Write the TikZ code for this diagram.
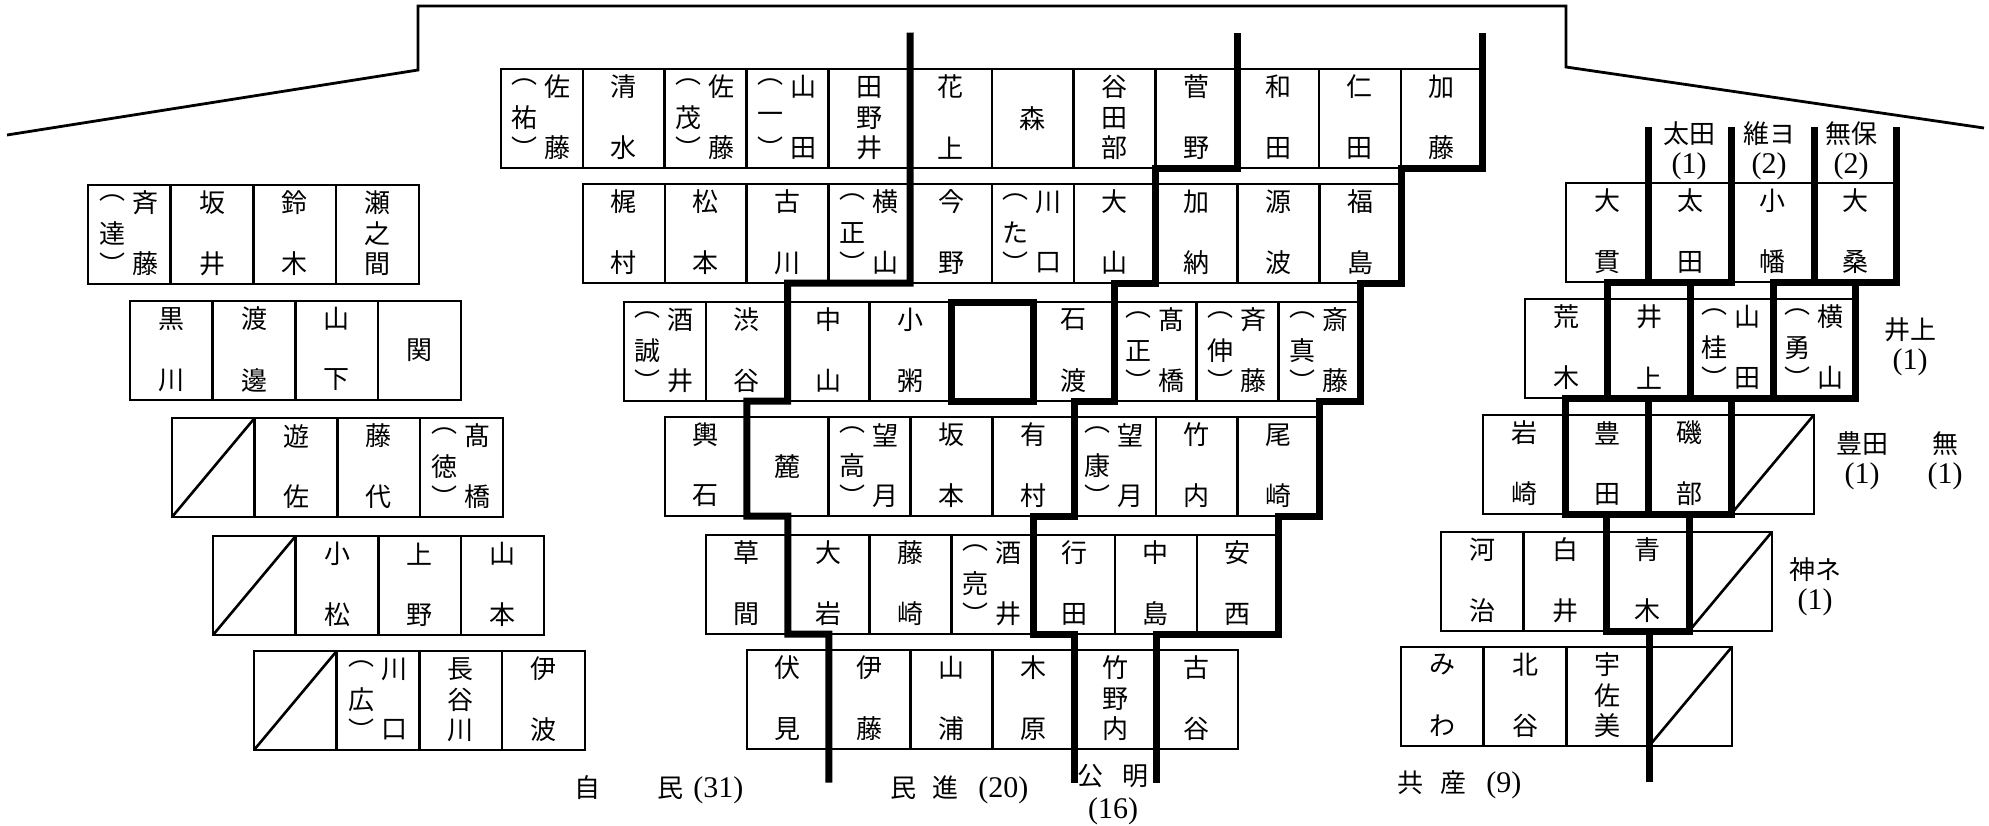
\documentclass[tikz,border=0pt]{standalone}
\usepackage{fontspec}
\setmainfont{Liberation Serif}
\newfontfamily\cjk{Noto Sans CJK JP}
\usetikzlibrary{calc}
\tikzset{
  seatbase/.style={draw, line width=1.3pt, inner sep=0pt, outer sep=0pt, minimum height=49.5pt, anchor=north west},
  midseat/.style={seatbase, minimum width=40.9pt},
  sideseat/.style={seatbase, minimum width=41.35pt},
  ch/.style={font=\cjk\fontsize{13}{15}\selectfont, inner sep=0pt},
  party/.style={line width=3.5pt, line cap=rect, line join=miter},
  diagline/.style={line width=1.3pt},
  stage/.style={line width=1.4pt, line join=miter},
  lbl/.style={font=\fontsize{15}{15}\selectfont, inner sep=0pt, align=center},
}
\newcommand\mkrow[5]{%
  \node[#2] (#1c1) at (#3,#4) {};
  \foreach \i [remember=\i as \p (initially 1)] in {2,...,#5} {\node[#2] (#1c\i) at (#1c\p.north east) {};}
}
\newcommand\nmTwo[3]{\node[ch] (#1a) at ([yshift=15.75pt]#1.center) {#2};\node[ch] (#1b) at ([yshift=-14.75pt]#1.center) {#3};}
\newcommand\nmThree[4]{\node[ch] (#1a) at ([yshift=15.75pt]#1.center) {#2};\node[ch] (#1m) at ([yshift=0.25pt]#1.center) {#3};\node[ch] (#1b) at ([yshift=-14.75pt]#1.center) {#4};}
\newcommand\nmOne[2]{\node[ch] (#1a) at (#1.center) {#2};}
\newcommand\nmPar[4]{\node[ch] (#1a) at ([xshift=8pt,yshift=15.75pt]#1.center) {#2};\node[ch] (#1m) at ([xshift=-8.5pt,yshift=0.25pt]#1.center) {#3};\node[ch] (#1b) at ([xshift=8pt,yshift=-14.75pt]#1.center) {#4};\node[ch] (#1o) at ([xshift=-8.5pt,yshift=18pt]#1.center) {︵};\node[ch] (#1c) at ([xshift=-8.5pt,yshift=-14.75pt]#1.center) {︶};}
\newcommand\nmDiag[1]{\draw[diagline] (#1.south west) -- (#1.north east);}
\begin{document}
\begin{tikzpicture}[x=0.5pt,y=-0.5pt]
\fill[white] (0,0) rectangle (1989,825);
\useasboundingbox (0,0) rectangle (1989,825);
% stage
\draw[stage] (7,135) -- (418,70) -- (418,6) -- (1566,6) -- (1566,67) -- (1984,128);
% center block
\mkrow{r1}{midseat}{501}{69}{12}
\mkrow{r2}{midseat}{583}{184}{10}
\mkrow{r3}{midseat}{624}{302}{9}
\mkrow{r4}{midseat}{665}{417}{8}
\mkrow{r5}{midseat}{706}{535}{7}
\mkrow{r6}{midseat}{747}{650}{6}
% left block
\mkrow{l1}{sideseat}{88}{185}{4}
\mkrow{l2}{sideseat}{130}{301}{4}
\mkrow{l3}{sideseat}{172}{418}{4}
\mkrow{l4}{sideseat}{213}{536}{4}
\mkrow{l5}{sideseat}{254}{651}{4}
% right block
\mkrow{q1}{sideseat}{1566}{183}{4}
\mkrow{q2}{sideseat}{1525}{299}{4}
\mkrow{q3}{sideseat}{1483}{415}{4}
\mkrow{q4}{sideseat}{1441}{532}{4}
\mkrow{q5}{sideseat}{1401}{647}{4}
% names row 1
\nmPar{r1c1}{佐}{祐}{藤}\nmTwo{r1c2}{清}{水}\nmPar{r1c3}{佐}{茂}{藤}\nmPar{r1c4}{山}{一}{田}
\nmThree{r1c5}{田}{野}{井}\nmTwo{r1c6}{花}{上}\nmOne{r1c7}{森}\nmThree{r1c8}{谷}{田}{部}
\nmTwo{r1c9}{菅}{野}\nmTwo{r1c10}{和}{田}\nmTwo{r1c11}{仁}{田}\nmTwo{r1c12}{加}{藤}
% row 2
\nmTwo{r2c1}{梶}{村}\nmTwo{r2c2}{松}{本}\nmTwo{r2c3}{古}{川}\nmPar{r2c4}{横}{正}{山}
\nmTwo{r2c5}{今}{野}\nmPar{r2c6}{川}{た}{口}\nmTwo{r2c7}{大}{山}\nmTwo{r2c8}{加}{納}
\nmTwo{r2c9}{源}{波}\nmTwo{r2c10}{福}{島}
% row 3
\nmPar{r3c1}{酒}{誠}{井}\nmTwo{r3c2}{渋}{谷}\nmTwo{r3c3}{中}{山}\nmTwo{r3c4}{小}{粥}
\nmTwo{r3c6}{石}{渡}\nmPar{r3c7}{髙}{正}{橋}\nmPar{r3c8}{斉}{伸}{藤}\nmPar{r3c9}{斎}{真}{藤}
% row 4
\nmTwo{r4c1}{輿}{石}\nmOne{r4c2}{麓}\nmPar{r4c3}{望}{高}{月}\nmTwo{r4c4}{坂}{本}
\nmTwo{r4c5}{有}{村}\nmPar{r4c6}{望}{康}{月}\nmTwo{r4c7}{竹}{内}\nmTwo{r4c8}{尾}{崎}
% row 5
\nmTwo{r5c1}{草}{間}\nmTwo{r5c2}{大}{岩}\nmTwo{r5c3}{藤}{崎}\nmPar{r5c4}{酒}{亮}{井}
\nmTwo{r5c5}{行}{田}\nmTwo{r5c6}{中}{島}\nmTwo{r5c7}{安}{西}
% row 6
\nmTwo{r6c1}{伏}{見}\nmTwo{r6c2}{伊}{藤}\nmTwo{r6c3}{山}{浦}\nmTwo{r6c4}{木}{原}
\nmThree{r6c5}{竹}{野}{内}\nmTwo{r6c6}{古}{谷}
% left block names
\nmPar{l1c1}{斉}{達}{藤}\nmTwo{l1c2}{坂}{井}\nmTwo{l1c3}{鈴}{木}\nmThree{l1c4}{瀬}{之}{間}
\nmTwo{l2c1}{黒}{川}\nmTwo{l2c2}{渡}{邊}\nmTwo{l2c3}{山}{下}\nmOne{l2c4}{関}
\nmDiag{l3c1}\nmTwo{l3c2}{遊}{佐}\nmTwo{l3c3}{藤}{代}\nmPar{l3c4}{髙}{徳}{橋}
\nmDiag{l4c1}\nmTwo{l4c2}{小}{松}\nmTwo{l4c3}{上}{野}\nmTwo{l4c4}{山}{本}
\nmDiag{l5c1}\nmPar{l5c2}{川}{広}{口}\nmThree{l5c3}{長}{谷}{川}\nmTwo{l5c4}{伊}{波}
% right block names
\nmTwo{q1c1}{大}{貫}\nmTwo{q1c2}{太}{田}\nmTwo{q1c3}{小}{幡}\nmTwo{q1c4}{大}{桑}
\nmTwo{q2c1}{荒}{木}\nmTwo{q2c2}{井}{上}\nmPar{q2c3}{山}{桂}{田}\nmPar{q2c4}{横}{勇}{山}
\nmTwo{q3c1}{岩}{崎}\nmTwo{q3c2}{豊}{田}\nmTwo{q3c3}{磯}{部}\nmDiag{q3c4}
\nmTwo{q4c1}{河}{治}\nmTwo{q4c2}{白}{井}\nmTwo{q4c3}{青}{木}\nmDiag{q4c4}
\nmTwo{q5c1}{み}{わ}\nmTwo{q5c2}{北}{谷}\nmThree{q5c3}{宇}{佐}{美}\nmDiag{q5c4}
% party lines, center
\draw[party] ($(r1c5.north east)+(0,-33)$) -- (r2c4.south east) -| (r3c2.south east) -| (r4c1.south east) -| (r5c1.south east) -| (r6c1.south east) -- ++(0,30);
\draw[party] ($(r1c9.north east)+(0,-33)$) -- (r1c9.south east) -| (r2c7.south east) -| (r3c6.south east) -| (r4c5.south east) -| (r5c4.south east) -| (r6c4.south east) -- ++(0,30);
\draw[party] ($(r1c12.north east)+(0,-33)$) -- (r1c12.south east) -| (r2c10.south east) -| (r3c9.south east) -| (r4c8.south east) -| (r5c7.south east) -| (r6c5.south east) -- ++(0,30);
\draw[party] (r3c5.north west) rectangle (r3c5.south east);
% party lines, right
\foreach \i in {1,...,4} {\draw[party] ($(q1c\i.north east)+(0,-53)$) -- (q1c\i.south east);}
\draw[party] (q2c1.east |- q1c1.south) -- (q1c2.south east);
\draw[party] (q2c3.east |- q1c1.south) -- (q1c4.south east);
\foreach \i in {1,...,4} {\draw[party] (q2c\i.east |- q1c1.south) -- (q2c\i.south east);}
\draw[party] (q3c1.east |- q2c1.south) -- (q2c4.south east);
\foreach \i in {1,...,3} {\draw[party] (q3c\i.east |- q2c1.south) -- (q3c\i.south east);}
\draw[party] (q3c1.south east) -- (q3c3.south east);
\draw[party] (q4c2.east |- q3c1.south) -- (q4c2.south east) -- (q4c3.south east) -- (q4c3.east |- q3c1.south);
\draw[party] (q5c3.east |- q4c1.south) -- ($(q5c3.south east)+(0,32)$);
% labels right
\node[lbl] (labota) at (1689,151) {{\cjk\fontsize{13}{15}\selectfont 太田}\\(1)};
\node[lbl] (labishin) at (1769,151) {{\cjk\fontsize{13}{15}\selectfont 維ヨ}\\(2)};
\node[lbl] (labmuho) at (1851,151) {{\cjk\fontsize{13}{15}\selectfont 無保}\\(2)};
\node[lbl] (labinoue) at (1910,347) {{\cjk\fontsize{13}{15}\selectfont 井上}\\(1)};
\node[lbl] (labtoyota) at (1862,461) {{\cjk\fontsize{13}{15}\selectfont 豊田}\\(1)};
\node[lbl] (labmu) at (1945,461) {{\cjk\fontsize{13}{15}\selectfont 無}\\(1)};
\node[lbl] (labshin) at (1815,587) {{\cjk\fontsize{13}{15}\selectfont 神ネ}\\(1)};
% labels bottom
\node[lbl, anchor=west] (labjimin) at (574,790) {{\cjk\fontsize{13}{15}\selectfont 自}\hspace{28.5pt}{\cjk\fontsize{13}{15}\selectfont 民}\hspace{5pt}(31)};
\node[lbl, anchor=west] (labminshin) at (890,790) {{\cjk\fontsize{13}{15}\selectfont 民}\hspace{8pt}{\cjk\fontsize{13}{15}\selectfont 進}\hspace{10pt}(20)};
\node[lbl, font=\fontsize{15}{16.5}\selectfont] (labkomei) at (1113,795) {{\cjk\fontsize{13}{15}\selectfont 公}\hspace{9.5pt}{\cjk\fontsize{13}{15}\selectfont 明}\\(16)};
\node[lbl, anchor=west] (labkyosan) at (1397,785) {{\cjk\fontsize{13}{15}\selectfont 共}\hspace{8.5pt}{\cjk\fontsize{13}{15}\selectfont 産}\hspace{10pt}(9)};
\end{tikzpicture}
\end{document}
